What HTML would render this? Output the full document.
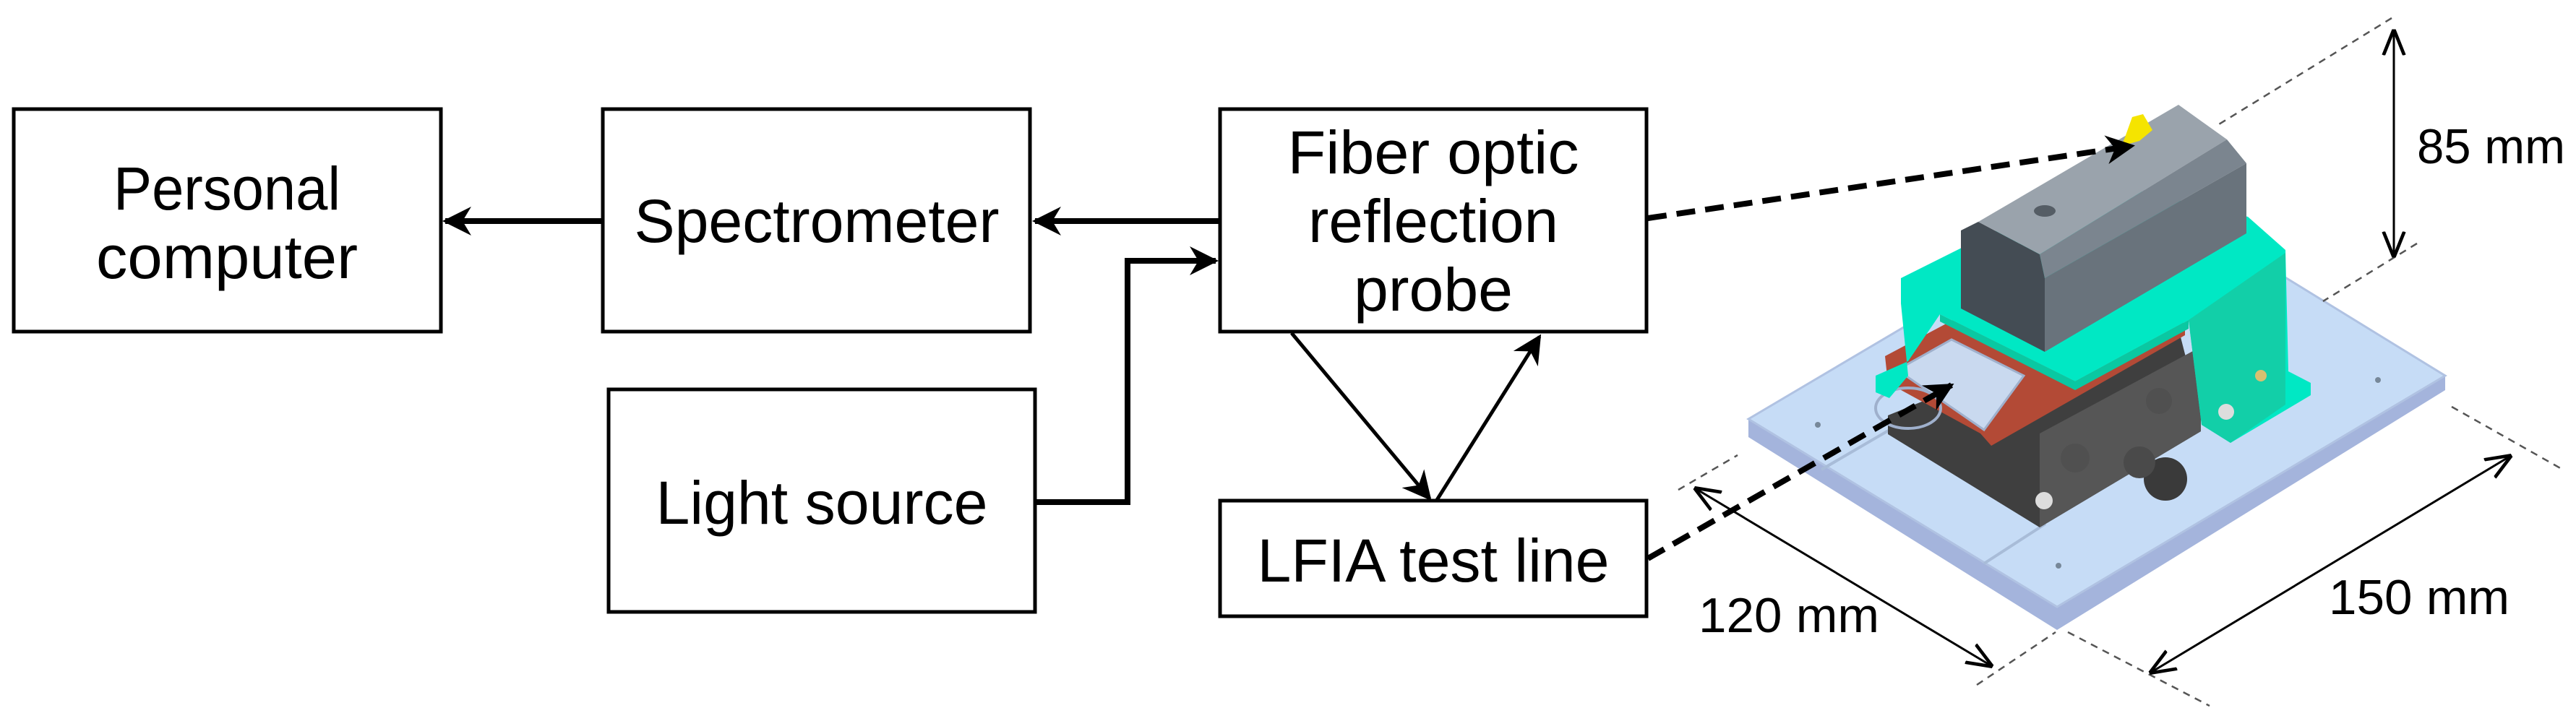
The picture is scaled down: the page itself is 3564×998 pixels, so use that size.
<!DOCTYPE html>
<html><head><meta charset="utf-8"><style>html,body{margin:0;padding:0;background:#fff}svg{display:block}</style></head>
<body>
<svg width="3564" height="998" viewBox="0 0 3564 998" xmlns="http://www.w3.org/2000/svg">
<defs>
<marker id="ah" viewBox="0 0 10 10" refX="9" refY="5" markerWidth="5" markerHeight="5" orient="auto" markerUnits="strokeWidth"><path d="M0,0 L10,5 L0,10 L3,5 z" fill="#000"/></marker>
<marker id="ah2" viewBox="0 0 10 10" refX="9" refY="5" markerWidth="8" markerHeight="8" orient="auto" markerUnits="strokeWidth"><path d="M0,0 L10,5 L0,10 L3,5 z" fill="#000"/></marker>
<marker id="ah3" viewBox="0 0 10 10" refX="9" refY="5" markerWidth="12" markerHeight="12" orient="auto-start-reverse" markerUnits="strokeWidth"><path d="M0,1 L10,5 L0,9" fill="none" stroke="#000" stroke-width="1.3"/></marker>
</defs>
<g font-family="Liberation Sans Narrow, Liberation Sans, sans-serif" font-size="84" text-anchor="middle" fill="#000">
<rect x="19" y="151" width="591" height="308" fill="#fff" stroke="#000" stroke-width="5"/>
<text x="314" y="290" textLength="314" lengthAdjust="spacingAndGlyphs">Personal</text><text x="314" y="385" textLength="362" lengthAdjust="spacingAndGlyphs">computer</text>
<rect x="834" y="151" width="591" height="308" fill="#fff" stroke="#000" stroke-width="5"/>
<text x="1130" y="335" textLength="505" lengthAdjust="spacingAndGlyphs">Spectrometer</text>
<rect x="1688" y="151" width="590" height="308" fill="#fff" stroke="#000" stroke-width="5"/>
<text x="1983" y="240" textLength="403" lengthAdjust="spacingAndGlyphs">Fiber optic</text><text x="1983" y="335" textLength="346" lengthAdjust="spacingAndGlyphs">reflection</text><text x="1983" y="430" textLength="220" lengthAdjust="spacingAndGlyphs">probe</text>
<rect x="842" y="539" width="590" height="308" fill="#fff" stroke="#000" stroke-width="5"/>
<text x="1137" y="725" textLength="459" lengthAdjust="spacingAndGlyphs">Light source</text>
<rect x="1688" y="693" width="590" height="160" fill="#fff" stroke="#000" stroke-width="5"/>
<text x="1983" y="805" textLength="487" lengthAdjust="spacingAndGlyphs">LFIA test line</text>
</g>
<g stroke="#000" stroke-width="8" fill="none">
<line x1="834" y1="306" x2="616" y2="306" marker-end="url(#ah)"/>
<line x1="1688" y1="306" x2="1432" y2="306" marker-end="url(#ah)"/>
<polyline points="1432,695 1560,695 1560,361 1682,361" marker-end="url(#ah)"/>
</g>
<g stroke="#000" stroke-width="5" fill="none">
<line x1="1787" y1="461" x2="1978" y2="690" marker-end="url(#ah2)"/>
<line x1="1988" y1="692" x2="2130" y2="466" marker-end="url(#ah2)"/>
</g>
<!-- base plate -->
<polygon points="2419,580 2846,840 3383,520 3383,540 2846,872 2419,605" fill="#a4b4dc"/>
<polygon points="2419,580 2846,840 3383,520 2960,260" fill="#c6dcf6" stroke="#b0c2e2" stroke-width="3"/>
<line x1="2520" y1="650" x2="2700" y2="545" stroke="#a8bcd8" stroke-width="4"/>
<line x1="2745" y1="780" x2="2830" y2="725" stroke="#a8bcd8" stroke-width="4"/>
<circle cx="2515" cy="588" r="4" fill="#789"/><circle cx="2848" cy="783" r="4" fill="#789"/><circle cx="3290" cy="526" r="4" fill="#789"/>
<!-- black stage -->
<polygon points="2612,601 2612,575 2760,515 3014,455 3045,576 3045,597 2822,730" fill="#3f3f3f"/>
<polygon points="2822,730 3045,597 3045,480 2822,600" fill="#565656"/>
<circle cx="2996" cy="663" r="30" fill="#3a3a3a"/><circle cx="2960" cy="640" r="22" fill="#4a4a4a"/>
<circle cx="2871" cy="634" r="20" fill="#505050"/><circle cx="2987" cy="555" r="18" fill="#505050"/>
<circle cx="2828" cy="693" r="12" fill="#ddd"/>
<!-- red slider -->
<polygon points="2608,493 2702,443 3023,447 3023,464 2755,617 2740,600 2612,530" fill="#b34a36"/>
<polygon points="2625,512 2700,470 2800,520 2745,595" fill="#c9d9ef" stroke="#9fb0cc" stroke-width="3"/>
<ellipse cx="2640" cy="565" rx="45" ry="28" fill="none" stroke="#9fb0cc" stroke-width="4"/>
<!-- green frame -->
<polygon points="2630,385 2900,250 3110,300 3162,346 3166,514 3197,530 3197,547 3086,613 3046,588 3028,443 2871,528 2684,435 2640,500 2595,520 2595,543 2614,551 2640,520 2630,420" fill="#00e8c4"/>
<polygon points="3028,443 3046,588 3086,613 3162,560 3162,350" fill="#12cfa8"/>
<polygon points="2871,528 2684,435 2684,445 2871,540 3028,455 3028,443" fill="#0ac8a2"/>
<circle cx="3080" cy="570" r="11" fill="#ddd"/><circle cx="3128" cy="520" r="8" fill="#d8c070"/>
<!-- gray block -->
<polygon points="2713,319 2737,307 2822,352 2829,385 2829,487 2713,427" fill="#444c54"/>
<polygon points="2737,307 3014,145 3081,193 2822,352" fill="#9aa3ac"/>
<polygon points="2822,352 3081,193 3108,226 2829,385" fill="#7b858f"/>
<polygon points="2829,385 3108,226 3108,323 2829,487" fill="#69737c"/>
<ellipse cx="2829" cy="292" rx="15" ry="8" fill="#555d65"/>
<polygon points="2950,162 2965,158 2978,180 2960,195 2935,202 2940,190" fill="#f5e400"/>
<!-- dashed pointers -->
<g stroke="#000" stroke-width="8" stroke-dasharray="26,14" fill="none">
<line x1="2280" y1="302" x2="2950" y2="202" marker-end="url(#ah)"/>
<line x1="2280" y1="773" x2="2700" y2="533" marker-end="url(#ah)"/>
</g>
<!-- dimensions -->
<g stroke="#555" stroke-width="2.5" stroke-dasharray="10,8" fill="none">
<line x1="3309" y1="25" x2="3070" y2="172"/>
<line x1="3344" y1="337" x2="3214" y2="417"/>
<line x1="2322" y1="678" x2="2404" y2="630"/>
<line x1="2735" y1="948" x2="2844" y2="875"/>
<line x1="2861" y1="875" x2="3057" y2="977"/>
<line x1="3392" y1="563" x2="3544" y2="649"/>
</g>
<g stroke="#000" stroke-width="3" fill="none">
<line x1="3312" y1="44" x2="3312" y2="353" marker-start="url(#ah3)" marker-end="url(#ah3)"/>
<line x1="2347" y1="677" x2="2754" y2="921" marker-start="url(#ah3)" marker-end="url(#ah3)"/>
<line x1="2977" y1="930" x2="3472" y2="632" marker-start="url(#ah3)" marker-end="url(#ah3)"/>
</g>
<g font-family="Liberation Sans Narrow, Liberation Sans, sans-serif" font-size="68" fill="#000">
<text x="3344" y="226" textLength="205" lengthAdjust="spacingAndGlyphs">85 mm</text>
<text x="2350" y="875" textLength="250" lengthAdjust="spacingAndGlyphs">120 mm</text>
<text x="3222" y="850" textLength="250" lengthAdjust="spacingAndGlyphs">150 mm</text>
</g>
</svg>
</body></html>
